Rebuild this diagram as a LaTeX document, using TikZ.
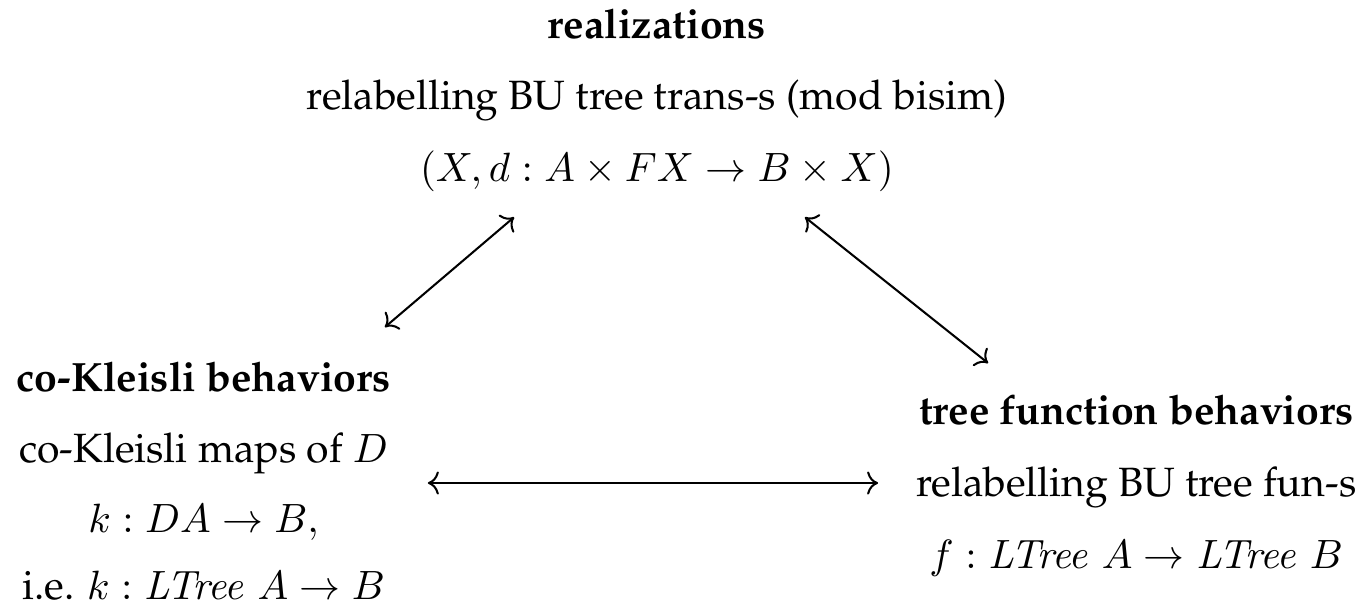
\documentclass[tikz,border=0pt]{standalone}
\usepackage[T1]{fontenc}
\usepackage{palatino}
\usepackage{amsmath, amssymb}
\usetikzlibrary{arrows.meta, positioning, calc}

\tikzset{
  ttl/.style={font=\bfseries, anchor=base, inner sep=1pt},
  txt/.style={anchor=base, inner sep=1pt},
  link/.style={<->, line width=0.5pt}
}

\begin{document}
\begin{tikzpicture}[x=1pt, y=1pt]
  \useasboundingbox (0,0) rectangle (333.5,148.9);

  % realizations
  \node[ttl] (realT) at (160.6,139.6) {realizations};
  \node[txt] (realA) at (160.6,122.0) {relabelling BU tree trans-s (mod bisim)};
  \node[txt] (realB) at (160.6,104.4) {$(X, d : A \times FX \to B \times X)$};

  % co-Kleisli behaviors
  \node[ttl] (kleT) at (49.8,53.1) {co-Kleisli behaviors};
  \node[txt] (kleA) at (49.8,35.9) {co-Kleisli maps of $D$};
  \node[txt] (kleB) at (49.8,18.6) {$k : DA \to B,$};
  \node[txt] (kleC) at (49.8,2.2) {i.e. $k : \mathit{LTree}\;A \to B$};

  % tree function behaviors
  \node[ttl] (funT) at (277.8,45.0) {tree function behaviors};
  \node[txt] (funA) at (277.8,27.4) {relabelling BU tree fun-s};
  \node[txt] (funB) at (277.8,10.0) {$f : \mathit{LTree}\;A \to \mathit{LTree}\;B$};

  \draw[link] ([shift={(44.3pt,15.8pt)}]kleT.base) -- ([shift={(-34.9pt,-8.6pt)}]realB.base);
  \draw[link] ([shift={(36.2pt,-8.6pt)}]realB.base) -- ([shift={(-36.2pt,15.1pt)}]funT.base);
  \draw[link] ([shift={(54.8pt,-5.1pt)}]kleA.base) -- ([shift={(-63.1pt,3.4pt)}]funA.base);
\end{tikzpicture}
\end{document}
